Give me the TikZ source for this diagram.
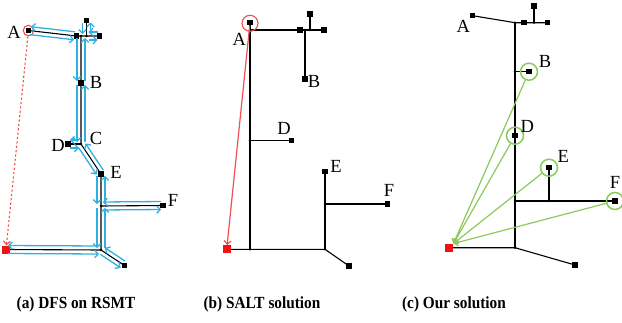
\documentclass[tikz,border=0pt]{standalone}
\usepackage{fontspec}
\setmainfont{Liberation Serif}
\newfontfamily\capfont[FakeStretch=0.9]{Liberation Serif}
\usetikzlibrary{arrows.meta,calc,backgrounds}
\definecolor{dfsblue}{RGB}{48,176,226}
\definecolor{grn}{RGB}{138,202,92}
\definecolor{lred}{RGB}{240,80,80}
\definecolor{srcred}{RGB}{238,20,20}
\begin{document}
\begin{tikzpicture}[x=1pt,y=-1pt,
  edge/.style={line width=1.1pt, black},
  term/.style={rectangle, fill=black, minimum size=5.5pt, inner sep=0pt},
  src/.style={rectangle, fill=srcred, minimum size=8pt, inner sep=0pt},
  stp/.style={circle, fill=black, minimum size=2.6pt, inner sep=0pt},
  lbl/.style={font=\fontsize{18.5}{18.5}\selectfont, inner sep=0pt},
  captxt/.style={font=\fontsize{17}{17}\selectfont\capfont\bfseries, anchor=base, inner sep=0pt},
  dfs/.style={draw=dfsblue, line width=1.3pt, -{Straight Barb[length=3.5pt,width=7.5pt]}, shorten <=2pt, shorten >=2pt},
  rcirc/.style={circle, draw=lred, line width=1.1pt, inner sep=0pt},
  gcirc/.style={circle, draw=grn, line width=1.5pt, minimum size=17pt, inner sep=0pt},
  garrow/.style={draw=grn, line width=1.2pt, -{Straight Barb[length=3.5pt,width=7pt]}},
  rarrow/.style={draw=lred, line width=1.2pt, -{Straight Barb[length=3.5pt,width=7pt]}},
  rdot/.style={draw=lred, line width=1.1pt, dash pattern=on 2.2pt off 2.2pt, -{Straight Barb[length=3.5pt,width=7pt]}}
]
\useasboundingbox (0,0) rectangle (622,322);

% ---------------- Panel (a) ----------------
\node[term] (aA) at (28.5,30.5) {};
\node[term] (aQ) at (76.5,36) {};
\node[stp] (aJ3) at (81,36) {};
\node[stp] (aJ4) at (86.5,36) {};
\node[term] (aR) at (99.5,36) {};
\node[term] (aT) at (86.5,20.5) {};
\node[term] (aB) at (81,83) {};
\node[stp] (aC) at (81,144) {};
\node[term] (aD) at (68,144) {};
\node[term] (aE) at (101,174) {};
\node[stp] (aJ2) at (101,206) {};
\node[term] (aF) at (163,205.5) {};
\node[stp] (aJ1) at (101,250) {};
\node[term] (aT1) at (124.5,265.5) {};
\node[src] (aS) at (6,249.5) {};
\node[rcirc, minimum size=10.5pt] (aAc) at (aA) {};

\begin{scope}[on background layer]
\draw[edge] (aA.center) -- (aQ.center) -- (aR.center);
\draw[edge] (aJ4.center) -- (aT.center);
\draw[edge] (aJ3.center) -- (aB.center) -- (aC.center) -- (aE.center) -- (aJ2.center) -- (aJ1.center) -- (aS.center);
\draw[edge] (aC.center) -- (aD.center);
\draw[edge] (aJ2.center) -- (aF.center);
\draw[edge] (aJ1.center) -- (aT1.center);
\end{scope}

\foreach \u/\v in {aA/aQ, aJ4/aT, aJ4/aR, aJ3/aB, aB/aC, aC/aD, aC/aE, aE/aJ2, aJ2/aF, aJ2/aJ1, aJ1/aT1, aJ1/aS}{
  \draw[dfs] ($(\u)!4pt!-90:(\v)$) -- ($(\v)!4pt!90:(\u)$);
  \draw[dfs] ($(\v)!4pt!-90:(\u)$) -- ($(\u)!4pt!90:(\v)$);
}
\draw[rdot] (aAc) -- (aS);

\node[lbl] (laA) at (14,32) {A};
\node[lbl] (laB) at (96,82) {B};
\node[lbl] (laC) at (96,138) {C};
\node[lbl] (laD) at (58,145) {D};
\node[lbl] (laE) at (116,172) {E};
\node[lbl] (laF) at (173,200.5) {F};

% ---------------- Panel (b) ----------------
\node[term] (bA) at (250,22.7) {};
\coordinate (bK) at (250,30);
\node[term] (bQ) at (300,30) {};
\node[stp] (bJ) at (305,30) {};
\node[stp] (bJ4) at (310,30) {};
\node[term] (bR) at (324,30) {};
\node[term] (bT) at (310,14) {};
\node[term] (bB) at (305,79) {};
\node[stp] (bJD) at (250,140.7) {};
\node[term] (bD) at (291.7,140.7) {};
\node[stp] (bJS) at (250,249.3) {};
\node[src] (bS) at (226.7,249.3) {};
\node[stp] (bJ1) at (325,249.3) {};
\node[term] (bT1) at (349,266) {};
\node[stp] (bJF) at (325,204) {};
\node[term] (bF) at (387.7,204) {};
\node[term] (bE) at (325,171.7) {};
\node[rcirc, minimum size=16pt] (bAc) at (250,23.3) {};

\begin{scope}[on background layer]
\draw[edge] (bA.center) -- (bK) -- (bR.center);
\draw[edge] (bA.center) -- (bJD.center) -- (bJS.center);
\draw[edge] (bJ.center) -- (bB.center);
\draw[edge] (bJ4.center) -- (bT.center);
\draw[edge] (bJD.center) -- (bD.center);
\draw[edge] (bS.center) -- (bJS.center) -- (bJ1.center) -- (bT1.center);
\draw[edge] (bJ1.center) -- (bJF.center) -- (bE.center);
\draw[edge] (bJF.center) -- (bF.center);
\end{scope}
\draw[rarrow] (bA) -- (bS);

\node[lbl] (lbA) at (239.3,39.3) {A};
\node[lbl] (lbB) at (314,81) {B};
\node[lbl] (lbD) at (284,128.3) {D};
\node[lbl] (lbE) at (336,166) {E};
\node[lbl] (lbF) at (389,190.7) {F};

% ---------------- Panel (c) ----------------
\node[term] (cA) at (472.7,15.7) {};
\node[stp] (cJ) at (515,22.7) {};
\node[term] (cQ) at (524,22.7) {};
\node[stp] (cJ4) at (534,22.7) {};
\node[term] (cR) at (547.7,22.7) {};
\node[term] (cT) at (534,6) {};
\node[stp] (cJB) at (515,71.7) {};
\node[term] (cB) at (529,71.7) {};
\node[term] (cD) at (515,135.7) {};
\node[stp] (cJF) at (515,201) {};
\node[stp] (cJE) at (549,201) {};
\node[term] (cE) at (549,167.7) {};
\node[term] (cF) at (615,201) {};
\node[stp] (cJ1) at (515,247.7) {};
\node[src] (cS) at (449,247.7) {};
\node[term] (cT1) at (575,265) {};
\coordinate (cTip) at (453.5,243.5);

\begin{scope}[on background layer]
\draw[edge] (cA.center) -- (cJ.center) -- (cR.center);
\draw[edge] (cJ4.center) -- (cT.center);
\draw[edge] (cJ.center) -- (cJB.center) -- (cD.center) -- (cJF.center) -- (cJ1.center);
\draw[edge] (cJB.center) -- (cB.center);
\draw[edge] (cJF.center) -- (cF.center);
\draw[edge] (cJE.center) -- (cE.center);
\draw[edge] (cS.center) -- (cJ1.center) -- (cT1.center);
\end{scope}

\node[gcirc] (gB) at (cB) {};
\node[gcirc] (gD) at (cD) {};
\node[gcirc] (gE) at (cE) {};
\node[gcirc] (gF) at (cF) {};
\foreach \g in {gB,gD,gE,gF}{\draw[garrow] (\g) -- (cTip);}

\node[lbl] (lcA) at (463.3,26.7) {A};
\node[lbl] (lcB) at (545,61.7) {B};
\node[lbl] (lcD) at (527.3,126.7) {D};
\node[lbl] (lcE) at (563.3,156.7) {E};
\node[lbl] (lcF) at (615,182) {F};

% ---------------- Captions ----------------
\node[captxt] (capa) at (76,308) {(a) DFS on RSMT};
\node[captxt] (capb) at (262,308) {(b) SALT solution};
\node[captxt] (capc) at (454,308) {(c) Our solution};
\end{tikzpicture}
\end{document}
